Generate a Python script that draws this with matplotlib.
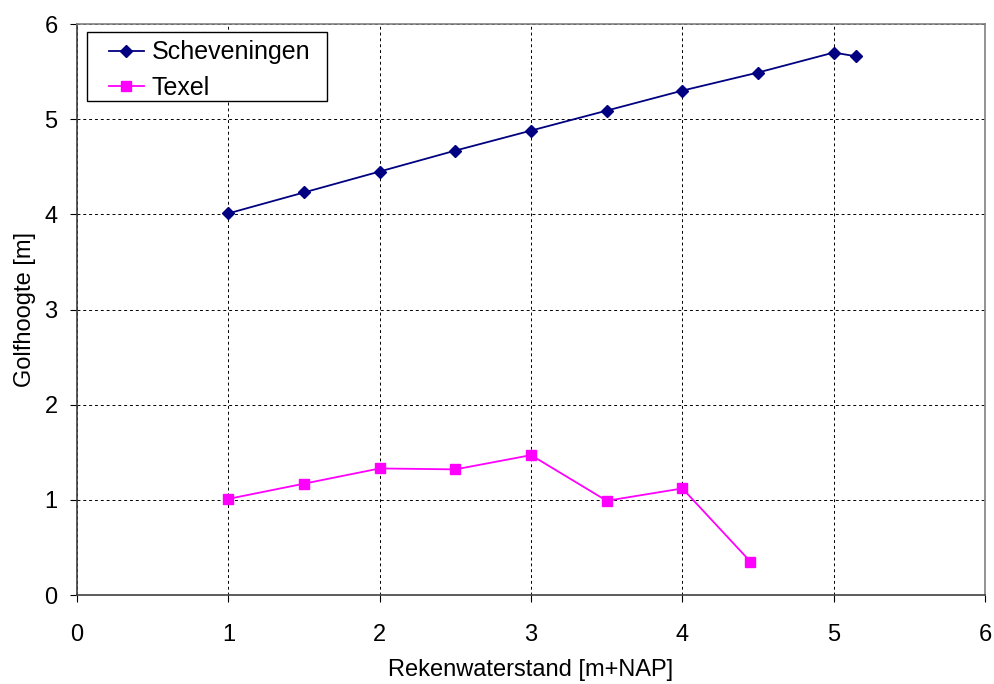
import matplotlib
matplotlib.use("Agg")
import matplotlib.pyplot as plt
from matplotlib.patches import Rectangle

plt.rcParams['font.family'] = ['Liberation Sans', 'DejaVu Sans']

# Data
schev_x = [1.0, 1.5, 2.0, 2.5, 3.0, 3.5, 4.0, 4.5, 5.0, 5.15]
schev_y = [4.01, 4.23, 4.45, 4.67, 4.88, 5.09, 5.30, 5.49, 5.70, 5.66]

texel_x = [1.0, 1.5, 2.0, 2.5, 3.0, 3.5, 4.0, 4.45]
texel_y = [1.01, 1.17, 1.33, 1.32, 1.47, 0.99, 1.12, 0.35]

ticks = [0, 1, 2, 3, 4, 5, 6]

fig = plt.figure(figsize=(9.95, 6.84), dpi=100)
ax = fig.add_axes([0.0774, 0.1301, 0.9126, 0.8348])

ax.plot(schev_x, schev_y, color='#000080', marker='D', markersize=6.5,
        linewidth=1.3, label='Scheveningen')
ax.plot(texel_x, texel_y, color='#FF00FF', marker='s', markersize=7,
        linewidth=1.3, label='Texel')

ax.set_xlim(0, 6)
ax.set_ylim(0, 6)
ax.set_xticks(ticks)
ax.set_yticks(ticks)
ax.grid(True, color='black', linestyle=(0, (3, 3)), linewidth=0.7)
ax.set_axisbelow(True)

for side in ['top', 'right']:
    ax.spines[side].set_color('#808080')
    ax.spines[side].set_linewidth(1.2)
for side in ['left', 'bottom']:
    ax.spines[side].set_color('#404040')
    ax.spines[side].set_linewidth(1.2)

ax.tick_params(direction='out', length=5, labelsize=17)
ax.tick_params(axis='y', pad=9)
ax.tick_params(axis='x', pad=16)
ax.set_xlabel('Rekenwaterstand [m+NAP]', fontsize=17, labelpad=9)
ax.set_ylabel('Golfhoogte [m]', fontsize=17, labelpad=6)

# legend box drawn separately (Excel style: padded frame)
ax.add_patch(Rectangle((0.011, 0.865), 0.2643, 0.121, transform=ax.transAxes,
                       facecolor='white', edgecolor='black', linewidth=1.0,
                       zorder=4))
leg = ax.legend(loc='upper left', bbox_to_anchor=(0.0352, 0.9715), fontsize=18,
                frameon=False, handlelength=1.4, borderpad=0,
                labelspacing=0.47, handletextpad=0.3, borderaxespad=0)
leg.set_zorder(5)

fig.savefig('out.png', dpi=100)
